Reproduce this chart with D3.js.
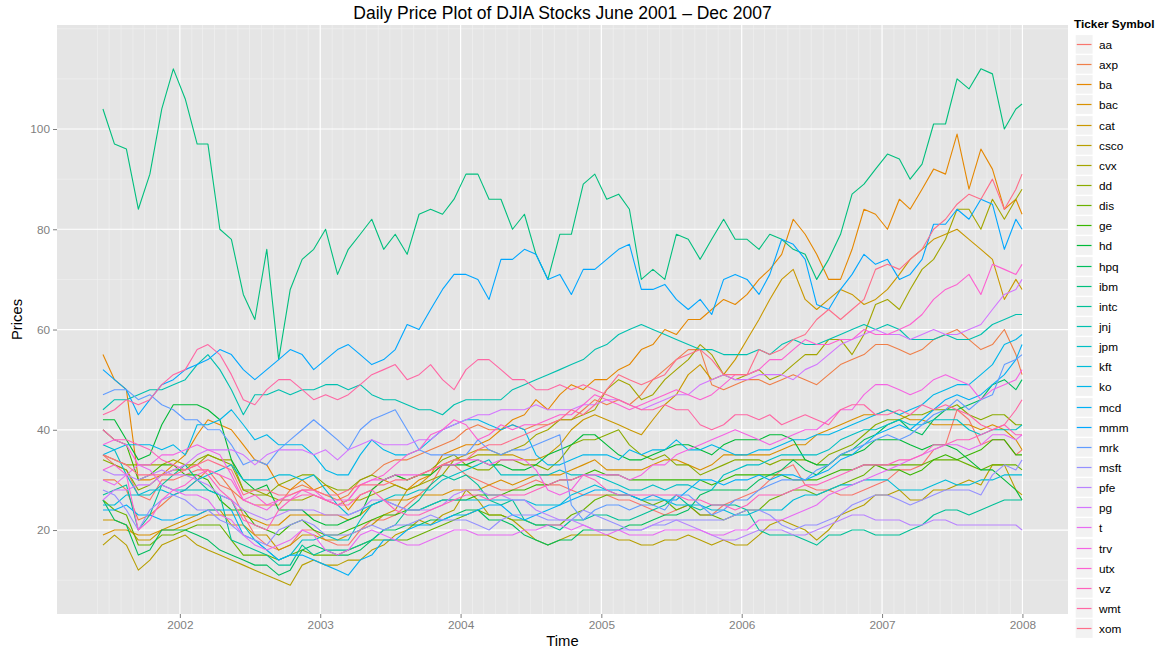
<!DOCTYPE html>
<html>
<head>
<meta charset="utf-8">
<title>Daily Price Plot of DJIA Stocks</title>
<script src="https://cdn.jsdelivr.net/npm/d3@7"></script>
<style>
  body { margin: 0; background: #ffffff; }
  svg { display: block; font-family: "Liberation Sans", Arial, Helvetica, sans-serif; }
</style>
</head>
<body>
<div id="chart"></div>
<script>
// --- Data (prices, one value per month) ---
const tickers = ["aa", "axp", "ba", "bac", "cat", "csco", "cvx", "dd", "dis", "ge",
  "hd", "hpq", "ibm", "intc", "jnj", "jpm", "kft", "ko", "mcd", "mmm",
  "mrk", "msft", "pfe", "pg", "t", "trv", "utx", "vz", "wmt", "xom"];

const sampleDates = [
  "2001-06-15", "2001-07-15", "2001-08-15", "2001-09-15", "2001-10-15", "2001-11-15", "2001-12-15",
  "2002-01-15", "2002-02-15", "2002-03-15", "2002-04-15", "2002-05-15", "2002-06-15",
  "2002-07-15", "2002-08-15", "2002-09-15", "2002-10-15", "2002-11-15", "2002-12-15",
  "2003-01-15", "2003-02-15", "2003-03-15", "2003-04-15", "2003-05-15", "2003-06-15",
  "2003-07-15", "2003-08-15", "2003-09-15", "2003-10-15", "2003-11-15", "2003-12-15",
  "2004-01-15", "2004-02-15", "2004-03-15", "2004-04-15", "2004-05-15", "2004-06-15",
  "2004-07-15", "2004-08-15", "2004-09-15", "2004-10-15", "2004-11-15", "2004-12-15",
  "2005-01-15", "2005-02-15", "2005-03-15", "2005-04-15", "2005-05-15", "2005-06-15",
  "2005-07-15", "2005-08-15", "2005-09-15", "2005-10-15", "2005-11-15", "2005-12-15",
  "2006-01-15", "2006-02-15", "2006-03-15", "2006-04-15", "2006-05-15", "2006-06-15",
  "2006-07-15", "2006-08-15", "2006-09-15", "2006-10-15", "2006-11-15", "2006-12-15",
  "2007-01-15", "2007-02-15", "2007-03-15", "2007-04-15", "2007-05-15", "2007-06-15",
  "2007-07-15", "2007-08-15", "2007-09-15", "2007-10-15", "2007-11-15", "2007-12-15",
  "2007-12-31"
];

const aa = [35, 33, 32, 27, 26, 30, 30, 31, 32, 32, 29, 28, 23, 19, 17, 16, 17, 20, 20, 18,
  17, 17, 20, 22, 22, 23, 25, 27, 29, 33, 33, 31, 30, 29, 28, 28, 29, 30, 29, 29,
  28, 27, 27, 27, 26, 26, 25, 24, 23, 24, 25, 23, 23, 25, 26, 27, 28, 30, 32, 33,
  29, 28, 28, 27, 27, 28, 29, 30, 32, 32, 33, 36, 37, 44, 42, 37, 38, 38, 35, 36];
const axp = [30, 30, 28, 22, 23, 25, 27, 28, 30, 32, 31, 28, 26, 25, 25, 25, 28, 29, 28, 27,
  26, 27, 30, 31, 33, 34, 34, 35, 36, 37, 38, 40, 41, 40, 40, 41, 40, 41, 41, 42,
  42, 44, 46, 45, 46, 45, 47, 50, 52, 54, 56, 56, 49, 48, 49, 50, 50, 49, 50, 51,
  50, 49, 51, 53, 54, 55, 57, 57, 56, 55, 56, 58, 59, 60, 58, 56, 57, 60, 55, 51];
const ba = [55, 50, 48, 30, 30, 31, 33, 35, 39, 42, 41, 40, 37, 34, 33, 29, 28, 30, 28, 29,
  27, 24, 27, 28, 30, 29, 28, 30, 31, 35, 36, 37, 37, 38, 40, 42, 43, 46, 44, 47,
  49, 48, 50, 50, 52, 53, 56, 57, 60, 59, 62, 62, 64, 66, 65, 67, 70, 72, 75, 82,
  79, 75, 70, 70, 76, 84, 83, 80, 86, 84, 88, 92, 91, 99, 88, 96, 92, 84, 86, 83];
const bac = [19, 20, 20, 19, 19, 20, 20, 21, 22, 23, 23, 23, 23, 22, 21, 21, 23, 23, 23, 23,
  23, 22, 23, 25, 26, 26, 26, 27, 27, 27, 28, 28, 28, 29, 30, 29, 30, 31, 31, 31,
  32, 33, 34, 32, 32, 32, 32, 33, 34, 34, 33, 32, 33, 35, 35, 35, 35, 35, 36, 37,
  37, 39, 40, 41, 42, 43, 43, 44, 43, 42, 42, 41, 41, 41, 41, 40, 41, 40, 38, 36];
const cat = [22, 22, 21, 18, 18, 20, 21, 22, 23, 24, 24, 21, 21, 19, 19, 16, 17, 19, 19, 18,
  18, 19, 20, 21, 23, 24, 28, 29, 31, 33, 34, 35, 36, 36, 35, 35, 34, 34, 35, 37,
  40, 42, 43, 42, 41, 40, 39, 42, 45, 47, 51, 53, 50, 51, 54, 58, 62, 66, 70, 72,
  66, 64, 66, 68, 67, 65, 66, 68, 71, 74, 76, 78, 79, 80, 78, 76, 74, 66, 70, 68];
const csco = [17, 19, 17, 12, 14, 17, 18, 19, 17, 16, 15, 14, 13, 12, 11, 10, 9, 13, 14, 13,
  13, 14, 14, 16, 17, 19, 20, 22, 21, 23, 24, 28, 26, 23, 23, 22, 20, 18, 17, 18,
  19, 19, 19, 19, 18, 18, 17, 17, 18, 18, 19, 18, 17, 18, 17, 17, 19, 21, 22, 21,
  20, 18, 20, 23, 24, 25, 27, 27, 28, 26, 26, 28, 28, 29, 30, 29, 33, 33, 28, 27];
const cvx = [35, 34, 33, 33, 33, 33, 34, 33, 33, 35, 34, 34, 28, 28, 27, 26, 26, 26, 27, 26,
  25, 26, 26, 27, 28, 29, 28, 29, 30, 31, 34, 34, 35, 35, 35, 36, 37, 39, 40, 42,
  42, 43, 44, 48, 50, 49, 46, 47, 50, 52, 54, 57, 55, 51, 50, 51, 52, 50, 51, 53,
  55, 55, 58, 58, 55, 59, 65, 66, 64, 68, 72, 74, 78, 84, 84, 80, 86, 82, 86, 88];
const dd = [34, 33, 32, 28, 29, 31, 32, 32, 34, 35, 34, 33, 28, 27, 27, 29, 30, 31, 31, 29,
  28, 28, 30, 31, 30, 31, 30, 31, 32, 34, 35, 33, 32, 32, 34, 34, 33, 33, 32, 34,
  37, 38, 38, 39, 40, 37, 35, 34, 35, 33, 33, 31, 32, 33, 34, 34, 34, 33, 34, 34,
  34, 33, 35, 36, 37, 39, 41, 42, 42, 43, 43, 44, 44, 45, 43, 42, 43, 43, 41, 41];
const dis = [26, 24, 23, 17, 17, 19, 19, 20, 21, 21, 21, 18, 15, 15, 15, 14, 15, 16, 15, 15,
  15, 16, 17, 18, 18, 18, 18, 19, 20, 21, 22, 23, 24, 23, 23, 22, 22, 21, 21, 21,
  23, 24, 26, 27, 27, 27, 26, 25, 26, 24, 25, 23, 23, 22, 23, 24, 24, 26, 27, 28,
  28, 27, 28, 29, 30, 31, 33, 33, 33, 33, 33, 34, 34, 34, 33, 32, 33, 33, 33, 32];
const ge = [40, 38, 37, 30, 31, 33, 33, 31, 31, 30, 26, 24, 24, 21, 20, 19, 21, 22, 20, 19,
  19, 20, 21, 22, 23, 23, 24, 24, 25, 26, 26, 26, 27, 27, 27, 28, 28, 29, 29, 30,
  30, 31, 32, 31, 31, 30, 30, 30, 30, 30, 30, 30, 29, 30, 31, 31, 31, 31, 31, 30,
  30, 30, 31, 32, 32, 33, 33, 32, 32, 31, 32, 34, 35, 34, 35, 36, 38, 38, 35, 35];
const hd = [42, 42, 38, 34, 35, 41, 45, 45, 45, 44, 42, 34, 30, 28, 29, 24, 24, 24, 22, 21,
  21, 22, 23, 28, 30, 31, 30, 31, 31, 33, 33, 33, 34, 33, 33, 32, 32, 33, 35, 36,
  37, 39, 39, 37, 35, 34, 34, 35, 36, 37, 37, 36, 35, 37, 38, 38, 38, 39, 39, 38,
  34, 33, 33, 35, 35, 36, 38, 38, 38, 37, 36, 37, 37, 36, 34, 32, 32, 30, 28, 26];
const hpq = [26, 22, 21, 15, 16, 20, 20, 20, 19, 18, 16, 15, 14, 13, 13, 11, 12, 16, 17, 16,
  15, 15, 16, 18, 20, 20, 21, 21, 22, 22, 23, 24, 24, 22, 22, 21, 19, 18, 17, 18,
  18, 20, 20, 20, 20, 21, 21, 22, 23, 23, 24, 27, 28, 28, 28, 28, 30, 31, 32, 34,
  32, 31, 33, 35, 36, 38, 39, 41, 42, 40, 39, 42, 44, 44, 45, 46, 49, 50, 48, 50];
const ibm = [104, 97, 96, 84, 91, 104, 112, 106, 97, 97, 80, 78, 67, 62, 76, 54, 68, 74, 76, 80,
  71, 76, 79, 82, 76, 79, 75, 83, 84, 83, 86, 91, 91, 86, 86, 80, 83, 75, 70, 79,
  79, 89, 91, 86, 87, 84, 70, 72, 70, 79, 78, 74, 78, 82, 78, 78, 76, 79, 78, 76,
  75, 70, 74, 79, 87, 89, 92, 95, 94, 90, 93, 101, 101, 110, 108, 112, 111, 100, 104, 105];
const intc = [27, 28, 29, 20, 23, 29, 31, 33, 30, 28, 27, 18, 17, 16, 15, 13, 13, 17, 15, 16,
  16, 16, 17, 18, 20, 21, 24, 26, 29, 31, 30, 31, 29, 26, 25, 26, 22, 21, 21, 20,
  22, 22, 23, 23, 22, 22, 23, 24, 25, 27, 25, 24, 25, 25, 25, 24, 20, 19, 19, 19,
  18, 17, 19, 19, 20, 20, 19, 19, 19, 20, 21, 23, 24, 24, 23, 24, 25, 26, 26, 26];
const jnj = [44, 46, 46, 47, 48, 48, 49, 50, 53, 55, 52, 48, 43, 47, 47, 48, 47, 48, 48, 49,
  49, 48, 49, 47, 46, 46, 45, 44, 44, 43, 45, 46, 46, 46, 46, 48, 49, 50, 51, 52,
  53, 54, 56, 57, 59, 60, 61, 60, 59, 58, 57, 56, 56, 55, 55, 55, 56, 55, 57, 58,
  57, 57, 58, 59, 60, 61, 60, 61, 60, 58, 58, 58, 59, 58, 58, 59, 61, 62, 63, 63];
const jpm = [37, 36, 31, 27, 27, 29, 28, 28, 28, 28, 27, 26, 21, 18, 16, 14, 15, 18, 18, 19,
  18, 18, 22, 25, 26, 27, 27, 28, 28, 30, 31, 32, 33, 34, 31, 31, 31, 31, 31, 32,
  31, 31, 31, 30, 29, 28, 28, 29, 28, 29, 29, 28, 28, 31, 32, 33, 33, 34, 35, 35,
  35, 35, 36, 38, 39, 40, 40, 41, 42, 41, 41, 42, 42, 42, 40, 39, 40, 40, 40, 41];
const kft = [25, 25, 27, 27, 28, 28, 27, 28, 30, 31, 32, 33, 30, 30, 30, 31, 31, 30, 31, 28,
  25, 23, 24, 25, 26, 25, 24, 24, 25, 26, 26, 26, 26, 26, 26, 26, 26, 25, 25, 25,
  27, 28, 29, 28, 27, 27, 26, 26, 26, 25, 25, 25, 24, 24, 23, 23, 24, 24, 24, 26,
  27, 27, 28, 29, 29, 30, 30, 30, 28, 28, 28, 29, 30, 29, 29, 30, 30, 31, 31, 31];
const ko = [35, 36, 37, 37, 37, 36, 37, 35, 41, 41, 42, 44, 41, 38, 39, 37, 37, 37, 35, 32,
  31, 31, 35, 38, 36, 35, 35, 36, 38, 40, 41, 42, 42, 41, 40, 41, 40, 35, 33, 33,
  34, 35, 35, 35, 34, 36, 35, 36, 36, 38, 36, 36, 37, 36, 35, 35, 36, 36, 37, 38,
  38, 39, 39, 40, 41, 42, 43, 44, 43, 44, 45, 47, 48, 49, 49, 51, 53, 57, 58, 59];
const mcd = [24, 24, 25, 23, 23, 22, 22, 23, 23, 24, 24, 24, 19, 18, 16, 14, 15, 15, 14, 13,
  12, 11, 14, 15, 18, 18, 20, 21, 21, 22, 23, 23, 24, 25, 25, 23, 22, 23, 24, 25,
  26, 27, 28, 28, 28, 27, 26, 27, 26, 26, 28, 30, 30, 29, 30, 30, 31, 30, 31, 31,
  30, 31, 32, 34, 35, 37, 39, 40, 41, 40, 42, 44, 46, 47, 46, 47, 49, 51, 54, 57];
const mmm = [52, 50, 48, 43, 46, 49, 50, 52, 53, 54, 56, 55, 52, 50, 52, 54, 56, 55, 52, 54,
  56, 57, 55, 53, 54, 56, 61, 60, 64, 68, 71, 71, 70, 66, 74, 74, 76, 75, 70, 71,
  67, 72, 72, 74, 76, 77, 68, 68, 69, 66, 64, 66, 63, 70, 71, 70, 67, 71, 78, 77,
  74, 65, 64, 68, 71, 75, 73, 74, 70, 71, 74, 81, 81, 84, 82, 86, 85, 76, 82, 80];
const mrk = [47, 48, 48, 46, 47, 45, 44, 42, 42, 40, 40, 37, 33, 34, 33, 36, 38, 40, 42, 40,
  38, 36, 40, 42, 43, 44, 40, 36, 35, 35, 35, 35, 38, 36, 35, 36, 36, 37, 38, 39,
  25, 22, 24, 25, 25, 24, 25, 25, 24, 27, 27, 25, 23, 24, 26, 26, 28, 29, 30, 30,
  30, 32, 33, 35, 36, 37, 38, 39, 38, 39, 41, 43, 44, 46, 44, 46, 47, 53, 54, 55];
const msft = [28, 27, 24, 20, 24, 26, 27, 26, 24, 24, 22, 21, 19, 18, 17, 20, 21, 22, 21, 19,
  19, 19, 20, 21, 20, 21, 21, 22, 23, 22, 22, 22, 21, 20, 22, 23, 23, 23, 22, 22,
  22, 24, 23, 22, 21, 20, 20, 21, 21, 22, 22, 22, 22, 22, 23, 24, 24, 23, 21, 20,
  21, 21, 22, 23, 25, 26, 27, 27, 26, 25, 26, 27, 28, 28, 28, 27, 31, 33, 32, 34];
const pfe = [32, 31, 31, 30, 31, 32, 31, 31, 30, 29, 27, 26, 24, 23, 22, 23, 24, 24, 24, 23,
  23, 23, 24, 26, 26, 25, 24, 24, 24, 25, 27, 28, 28, 27, 27, 26, 26, 24, 23, 22,
  22, 21, 20, 20, 20, 20, 20, 21, 22, 22, 21, 20, 19, 18, 18, 19, 20, 20, 20, 19,
  19, 20, 21, 22, 23, 23, 22, 22, 22, 21, 21, 22, 22, 21, 21, 21, 21, 21, 21, 20];
const pg = [26, 28, 28, 29, 29, 31, 32, 33, 35, 36, 36, 36, 35, 33, 35, 36, 36, 36, 35, 36,
  34, 36, 37, 38, 37, 37, 37, 38, 38, 40, 41, 42, 43, 43, 44, 44, 44, 45, 44, 44,
  44, 45, 45, 46, 46, 45, 44, 45, 46, 47, 47, 49, 50, 51, 50, 50, 51, 51, 51, 50,
  52, 53, 55, 57, 58, 59, 60, 59, 59, 58, 59, 60, 59, 59, 60, 61, 64, 67, 68, 70];
const t = [30, 29, 31, 33, 32, 29, 28, 27, 27, 26, 23, 22, 19, 17, 16, 17, 18, 20, 19, 16,
  15, 16, 19, 20, 19, 18, 17, 17, 18, 19, 20, 20, 19, 19, 19, 19, 20, 20, 21, 21,
  20, 21, 20, 19, 20, 19, 19, 19, 20, 20, 20, 20, 19, 19, 20, 20, 22, 22, 22, 23,
  24, 25, 27, 28, 29, 30, 31, 32, 33, 34, 35, 36, 37, 37, 36, 37, 39, 39, 38, 39];
const trv = [37, 38, 37, 33, 33, 35, 35, 36, 37, 36, 35, 31, 26, 25, 24, 26, 26, 28, 28, 26,
  26, 26, 29, 30, 30, 31, 31, 31, 32, 33, 33, 34, 34, 33, 34, 34, 34, 32, 28, 27,
  28, 31, 31, 31, 31, 30, 31, 33, 33, 35, 36, 37, 38, 39, 40, 39, 38, 37, 38, 39,
  40, 40, 42, 44, 44, 47, 49, 49, 48, 47, 48, 50, 51, 50, 49, 46, 48, 49, 50, 52];
const utx = [32, 33, 31, 20, 22, 26, 28, 29, 31, 32, 31, 30, 26, 27, 25, 26, 27, 28, 27, 26,
  25, 26, 29, 30, 31, 33, 35, 36, 39, 40, 42, 41, 38, 39, 41, 40, 41, 41, 42, 43,
  43, 45, 47, 46, 45, 44, 45, 46, 47, 48, 47, 46, 47, 49, 51, 51, 52, 54, 54, 56,
  58, 57, 57, 58, 58, 60, 59, 59, 60, 61, 63, 66, 68, 69, 71, 67, 73, 72, 71, 73];
const vz = [40, 38, 38, 37, 36, 34, 33, 32, 33, 31, 28, 26, 22, 21, 20, 24, 26, 27, 27, 26,
  25, 25, 27, 28, 26, 24, 23, 23, 24, 25, 26, 27, 27, 26, 27, 27, 27, 28, 29, 30,
  30, 31, 30, 28, 27, 27, 27, 27, 27, 27, 26, 26, 25, 25, 24, 25, 27, 27, 27, 28,
  29, 29, 30, 31, 32, 33, 33, 33, 34, 34, 35, 37, 37, 38, 38, 39, 40, 41, 39, 39];
const wmt = [43, 44, 46, 45, 46, 49, 51, 52, 56, 57, 55, 51, 46, 45, 48, 50, 50, 48, 46, 47,
  46, 47, 49, 51, 52, 53, 50, 51, 53, 50, 48, 52, 54, 54, 52, 50, 50, 48, 48, 49,
  48, 49, 48, 47, 46, 45, 44, 44, 45, 44, 44, 41, 40, 41, 43, 43, 42, 43, 41, 42,
  43, 42, 41, 44, 45, 45, 43, 43, 44, 43, 45, 44, 45, 44, 43, 41, 40, 41, 44, 46];
const xom = [35, 34, 33, 31, 31, 31, 31, 32, 33, 34, 33, 32, 27, 28, 28, 27, 27, 28, 28, 27,
  27, 28, 29, 29, 29, 30, 30, 31, 32, 33, 34, 34, 36, 37, 37, 38, 39, 40, 41, 42,
  44, 43, 45, 48, 51, 50, 49, 50, 51, 54, 55, 56, 54, 51, 51, 51, 56, 55, 56, 58,
  59, 62, 64, 62, 64, 66, 72, 73, 72, 74, 76, 80, 82, 85, 87, 86, 90, 84, 88, 91];

const priceLists = [aa, axp, ba, bac, cat, csco, cvx, dd, dis, ge, hd, hpq, ibm, intc, jnj,
  jpm, kft, ko, mcd, mmm, mrk, msft, pfe, pg, t, trv, utx, vz, wmt, xom];

const yTicks = [20, 40, 60, 80, 100];
const yMinor = [10, 30, 50, 70, 90, 110, 120];
const xTickYears = ["2002", "2003", "2004", "2005", "2006", "2007", "2008"];

document.addEventListener('DOMContentLoaded', () => {
    const width = 1165;
    const height = 654;
    const panel = { left: 57, right: 1068, top: 25, bottom: 614 };

    // ggplot2 hue palette: hcl(h, c = 100, l = 65), converted like grDevices::hcl
    function hclToHex(h, c, l) {
        const WY = 100.0, Wu = 0.1978398, Wv = 0.4683363;
        const hr = h * Math.PI / 180;
        const U = c * Math.cos(hr), V = c * Math.sin(hr);
        const Y = WY * (l > 7.999592 ? Math.pow((l + 16) / 116, 3) : l / 903.3);
        const u = U / (13 * l) + Wu;
        const v = V / (13 * l) + Wv;
        const X = 9.0 * Y * u / (4 * v);
        const Z = -X / 3 - 5 * Y + 3 * Y / v;
        const g = x => x > 0.00304 ? 1.055 * Math.pow(x, 1 / 2.4) - 0.055 : 12.92 * x;
        const cl = x => Math.max(0, Math.min(1, x));
        const r = cl(g((3.240479 * X - 1.537150 * Y - 0.498535 * Z) / WY));
        const gg = cl(g((-0.969256 * X + 1.875992 * Y + 0.041556 * Z) / WY));
        const b = cl(g((0.055648 * X - 0.204043 * Y + 1.057311 * Z) / WY));
        return d3.rgb(r * 255, gg * 255, b * 255).formatHex();
    }
    const palette = tickers.map((d, i) => hclToHex((15 + 12 * i) % 360, 100, 65));
    const color = d3.scaleOrdinal().domain(tickers).range(palette);

    const parse = d3.timeParse("%Y-%m-%d");
    const dates = sampleDates.map(parse);

    const series = tickers.map((tk, i) => ({
        ticker: tk,
        values: priceLists[i].map((v, j) => ({ date: dates[j], value: v }))
    }));

    // scales, with ggplot's 5% expansion on both axes
    const t0 = dates[0], t1 = dates[dates.length - 1];
    const span = t1 - t0;
    const x = d3.scaleTime()
        .domain([new Date(+t0 - span * 0.05), new Date(+t1 + span * 0.05)])
        .range([panel.left, panel.right]);
    const y = d3.scaleLinear()
        .domain([3.25, 120.75])
        .range([panel.bottom, panel.top]);

    const svg = d3.select("#chart").append("svg")
        .attr("width", width)
        .attr("height", height);

    // panel background
    svg.append("rect")
        .attr("x", panel.left).attr("y", panel.top)
        .attr("width", panel.right - panel.left)
        .attr("height", panel.bottom - panel.top)
        .attr("fill", "#E5E5E5");

    // minor grid
    const monthLines = d3.timeMonth.range(parse("2001-06-01"), parse("2008-01-02"))
        .filter(d => d.getMonth() !== 0);
    svg.append("g").selectAll("line").data(monthLines).join("line")
        .attr("x1", d => x(d)).attr("x2", d => x(d))
        .attr("y1", panel.top).attr("y2", panel.bottom)
        .attr("stroke", "#F2F2F2").attr("stroke-width", 0.6);
    svg.append("g").selectAll("line").data(yMinor).join("line")
        .attr("x1", panel.left).attr("x2", panel.right)
        .attr("y1", d => y(d)).attr("y2", d => y(d))
        .attr("stroke", "#F2F2F2").attr("stroke-width", 0.6);

    // major grid
    const yearDates = xTickYears.map(s => parse(s + "-01-01"));
    svg.append("g").selectAll("line").data(yearDates).join("line")
        .attr("x1", d => x(d)).attr("x2", d => x(d))
        .attr("y1", panel.top).attr("y2", panel.bottom)
        .attr("stroke", "#FFFFFF").attr("stroke-width", 1.2);
    svg.append("g").selectAll("line").data(yTicks).join("line")
        .attr("x1", panel.left).attr("x2", panel.right)
        .attr("y1", d => y(d)).attr("y2", d => y(d))
        .attr("stroke", "#FFFFFF").attr("stroke-width", 1.2);

    // price lines
    const line = d3.line()
        .x(d => x(d.date))
        .y(d => y(d.value));
    svg.append("g").selectAll("path").data(series).join("path")
        .attr("d", d => line(d.values))
        .attr("fill", "none")
        .attr("stroke", d => color(d.ticker))
        .attr("stroke-width", 1.1)
        .attr("stroke-linejoin", "round");

    // axes
    const xAxis = svg.append("g")
        .attr("transform", `translate(0,${panel.bottom})`)
        .call(d3.axisBottom(x).tickValues(yearDates).tickFormat((d, i) => xTickYears[i])
            .tickSize(4).tickPadding(3));
    const yAxis = svg.append("g")
        .attr("transform", `translate(${panel.left},0)`)
        .call(d3.axisLeft(y).tickValues(yTicks).tickSize(4).tickPadding(3));
    [xAxis, yAxis].forEach(ax => {
        ax.select(".domain").remove();
        ax.selectAll(".tick line").attr("stroke", "#7F7F7F");
        ax.selectAll(".tick text")
            .attr("fill", "#7F7F7F")
            .style("font-size", "11.8px")
            .style("font-family", "'Liberation Sans', Arial, sans-serif");
    });

    // titles
    svg.append("text")
        .attr("x", (panel.left + panel.right) / 2).attr("y", 19)
        .attr("text-anchor", "middle")
        .style("font-size", "17.5px")
        .attr("fill", "#000")
        .text("Daily Price Plot of DJIA Stocks June 2001 \u2013 Dec 2007");
    svg.append("text")
        .attr("x", (panel.left + panel.right) / 2).attr("y", 646)
        .attr("text-anchor", "middle")
        .style("font-size", "14.8px")
        .attr("fill", "#000")
        .text("Time");
    svg.append("text")
        .attr("transform", `translate(22,${(panel.top + panel.bottom) / 2}) rotate(-90)`)
        .attr("text-anchor", "middle")
        .style("font-size", "14.8px")
        .attr("fill", "#000")
        .text("Prices");

    // legend
    const legend = svg.append("g");
    legend.append("text")
        .attr("x", 1074).attr("y", 28)
        .style("font-size", "11.8px")
        .style("font-weight", "bold")
        .attr("fill", "#000")
        .text("Ticker Symbol");
    const rowH = 20.14;
    const item = legend.selectAll("g.item").data(tickers).join("g")
        .attr("class", "item")
        .attr("transform", (d, i) => `translate(1075,${Math.round(44 + i * rowH) + 0.5})`);
    item.append("rect")
        .attr("x", 0).attr("y", -rowH / 2)
        .attr("width", 18.3).attr("height", rowH)
        .attr("fill", "#F2F2F2")
        .attr("stroke", "#FFFFFF").attr("stroke-width", 1.4);
    item.append("line")
        .attr("x1", 1.8).attr("x2", 16.5)
        .attr("y1", 0).attr("y2", 0)
        .attr("stroke", d => color(d))
        .attr("stroke-width", 1.2);
    item.append("text")
        .attr("x", 24).attr("y", 0)
        .attr("dy", "0.35em")
        .style("font-size", "11.8px")
        .attr("fill", "#000")
        .text(d => d);
});
</script>
</body>
</html>
